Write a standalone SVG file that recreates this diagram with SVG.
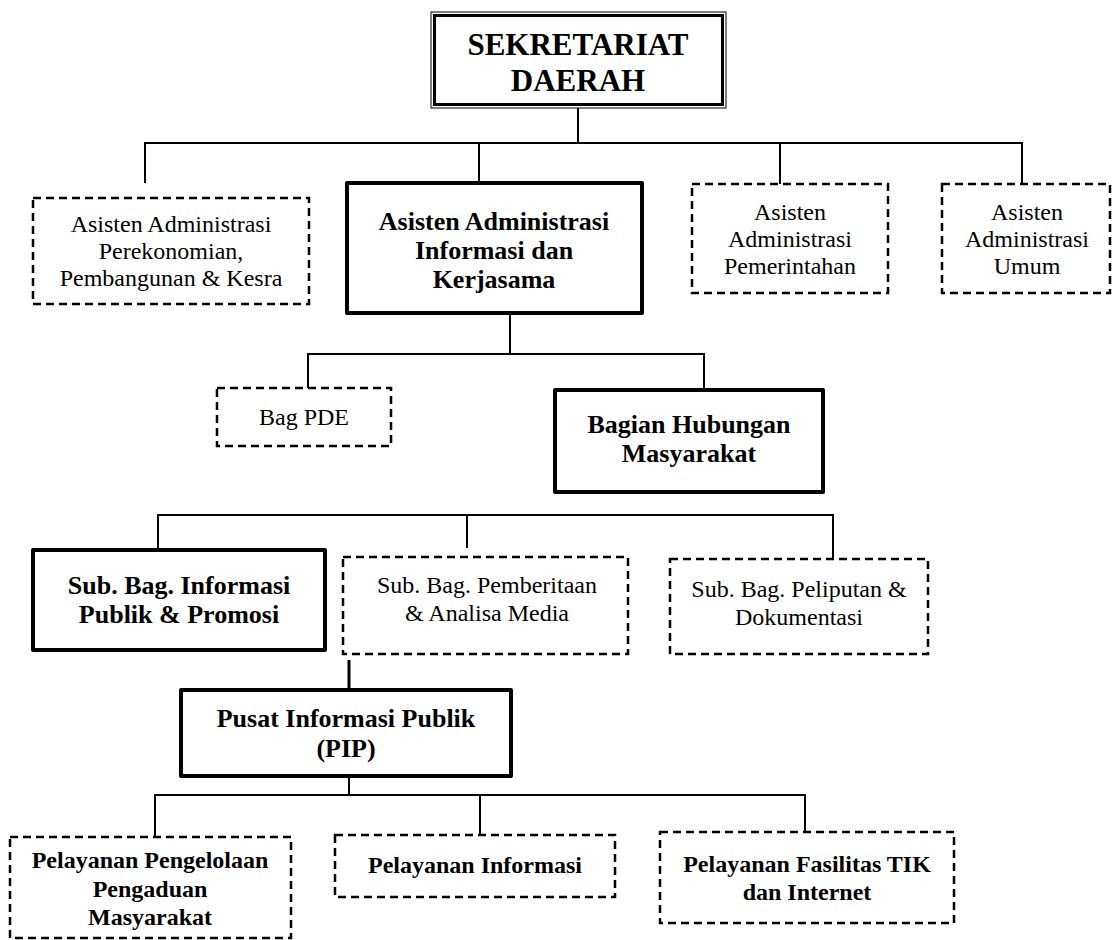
<svg xmlns="http://www.w3.org/2000/svg" width="1112" height="940" viewBox="0 0 1112 940" font-family="'Liberation Serif', 'Times New Roman', Times, serif">
<style>
text{font-family:'Liberation Serif','Times New Roman',Times,serif;fill:#000;text-anchor:middle}
.n{font-size:24px}
.b{font-size:26px;font-weight:bold}
.bs{font-size:24px;font-weight:bold}
.t{font-size:31px;font-weight:bold}
.dash{fill:#fff;stroke:#000;stroke-width:2.5;stroke-dasharray:8 5}
.thick{fill:#fff;stroke:#000;stroke-width:4;stroke-linejoin:round}
.conn line{stroke:#000;stroke-width:2}
</style>
<rect width="1112" height="940" fill="#fff"/>
<g id="connectors" class="conn">
<line x1="578" y1="108" x2="578" y2="143"/>
<line x1="144" y1="143" x2="1023" y2="143"/>
<line x1="145" y1="142" x2="145" y2="183"/>
<line x1="479" y1="142" x2="479" y2="183"/>
<line x1="780" y1="142" x2="780" y2="184"/>
<line x1="1022" y1="142" x2="1022" y2="184"/>
<line x1="510" y1="313" x2="510" y2="354"/>
<line x1="307" y1="354" x2="705" y2="354"/>
<line x1="308" y1="353" x2="308" y2="388"/>
<line x1="704" y1="353" x2="704" y2="390"/>
<line x1="157" y1="515" x2="834" y2="515"/>
<line x1="158" y1="514" x2="158" y2="550"/>
<line x1="467" y1="514" x2="467" y2="548"/>
<line x1="833" y1="514" x2="833" y2="559"/>
<line x1="349" y1="660" x2="349" y2="688" style="stroke-width:3"/>
<line x1="349" y1="776" x2="349" y2="795"/>
<line x1="154" y1="795" x2="806" y2="795"/>
<line x1="155" y1="794" x2="155" y2="836"/>
<line x1="480" y1="794" x2="480" y2="835"/>
<line x1="805" y1="794" x2="805" y2="832"/>
</g>
<g id="sekretariat">
<rect x="431" y="12" width="295" height="96" fill="#fff" stroke="#000" stroke-width="1"/>
<rect x="434.5" y="15.5" width="288" height="89" fill="none" stroke="#000" stroke-width="3"/>
<text class="t" x="578" y="55">SEKRETARIAT</text>
<text class="t" x="578" y="91">DAERAH</text>
</g>
<g id="asisten-perekonomian">
<rect class="dash" x="33" y="198" width="276" height="106"/>
<text class="n" x="171" y="232">Asisten Administrasi</text>
<text class="n" x="171" y="259">Perekonomian,</text>
<text class="n" x="171" y="286">Pembangunan &amp; Kesra</text>
</g>
<g id="asisten-informasi">
<rect class="thick" x="347" y="183" width="295" height="130"/>
<text class="b" x="494" y="230">Asisten Administrasi</text>
<text class="b" x="494" y="259">Informasi dan</text>
<text class="b" x="494" y="288">Kerjasama</text>
</g>
<g id="asisten-pemerintahan">
<rect class="dash" x="692" y="184" width="196" height="109"/>
<text class="n" x="790" y="220">Asisten</text>
<text class="n" x="790" y="247">Administrasi</text>
<text class="n" x="790" y="274">Pemerintahan</text>
</g>
<g id="asisten-umum">
<rect class="dash" x="942" y="184" width="168" height="109"/>
<text class="n" x="1027" y="220">Asisten</text>
<text class="n" x="1027" y="247">Administrasi</text>
<text class="n" x="1027" y="274">Umum</text>
</g>
<g id="bag-pde">
<rect class="dash" x="217" y="388" width="174" height="58"/>
<text class="n" x="304" y="425">Bag PDE</text>
</g>
<g id="bagian-humas">
<rect class="thick" x="555" y="390" width="268" height="102"/>
<text class="b" x="689" y="433">Bagian Hubungan</text>
<text class="b" x="689" y="462">Masyarakat</text>
</g>
<g id="subbag-informasi">
<rect class="thick" x="33" y="550" width="292" height="100"/>
<text class="b" x="179" y="594">Sub. Bag. Informasi</text>
<text class="b" x="179" y="623">Publik &amp; Promosi</text>
</g>
<g id="subbag-pemberitaan">
<rect class="dash" x="343" y="557" width="285" height="97"/>
<text class="n" x="487" y="593">Sub. Bag. Pemberitaan</text>
<text class="n" x="487" y="621">&amp; Analisa Media</text>
</g>
<g id="subbag-peliputan">
<rect class="dash" x="670" y="559" width="258" height="95"/>
<text class="n" x="799" y="597">Sub. Bag. Peliputan &amp;</text>
<text class="n" x="799" y="625">Dokumentasi</text>
</g>
<g id="pip">
<rect class="thick" x="181" y="690" width="330" height="86"/>
<text class="b" x="346" y="727">Pusat Informasi Publik</text>
<text class="b" x="346" y="757">(PIP)</text>
</g>
<g id="pelayanan-pengaduan">
<rect class="dash" x="10" y="837" width="281" height="101"/>
<text class="bs" x="150" y="868">Pelayanan Pengelolaan</text>
<text class="bs" x="150" y="897">Pengaduan</text>
<text class="bs" x="150" y="925">Masyarakat</text>
</g>
<g id="pelayanan-informasi">
<rect class="dash" x="335" y="835" width="280" height="62"/>
<text class="bs" x="475" y="873">Pelayanan Informasi</text>
</g>
<g id="pelayanan-tik">
<rect class="dash" x="660" y="832" width="294" height="91"/>
<text class="bs" x="807" y="872">Pelayanan Fasilitas TIK</text>
<text class="bs" x="807" y="900">dan Internet</text>
</g>
</svg>
